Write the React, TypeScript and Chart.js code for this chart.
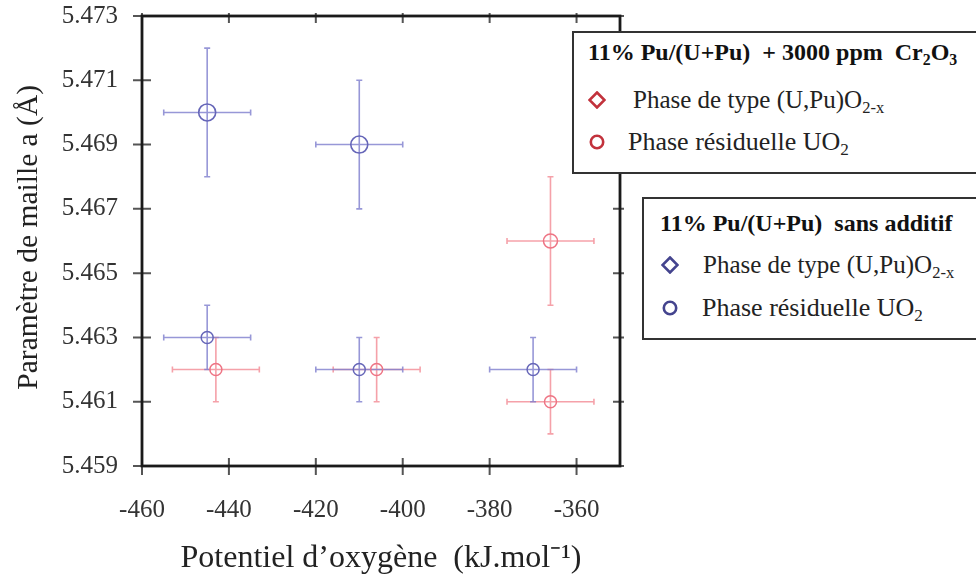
import React, { useEffect, useRef } from 'react';
import { Chart, registerables } from 'chart.js';

Chart.register(...registerables);

// Axis ticks
const xTickValues = [-460, -440, -420, -400, -380, -360];
const yTickValues = [5.459, 5.461, 5.463, 5.465, 5.467, 5.469, 5.471, 5.473];

// 11% Pu/(U+Pu) + 3000 ppm Cr2O3 — phase de type (U,Pu)O2-x
const crPhaseX = [-443, -406, -366];
const crPhaseY = [5.462, 5.462, 5.461];
const crPhaseErrX = [10, 10, 10];
const crPhaseErrY = [0.001, 0.001, 0.001];
// 11% Pu/(U+Pu) + 3000 ppm Cr2O3 — phase résiduelle UO2
const crUO2X = [-366];
const crUO2Y = [5.466];
const crUO2ErrX = [10];
const crUO2ErrY = [0.002];
// 11% Pu/(U+Pu) sans additif — phase de type (U,Pu)O2-x
const saPhaseX = [-445, -410, -370];
const saPhaseY = [5.463, 5.462, 5.462];
const saPhaseErrX = [10, 10, 10];
const saPhaseErrY = [0.001, 0.001, 0.001];
// 11% Pu/(U+Pu) sans additif — phase résiduelle UO2
const saUO2X = [-445, -410];
const saUO2Y = [5.47, 5.469];
const saUO2ErrX = [10, 10];
const saUO2ErrY = [0.002, 0.002];

const BLUE_BAR = 'rgba(125,125,205,0.8)';
const BLUE_MARK = '#6666b8';
const RED_BAR = 'rgba(242,130,140,0.75)';
const RED_MARK = '#ee7484';
const FONT = "'Liberation Serif', 'Times New Roman', serif";

const pts = (xs: number[], ys: number[]) => xs.map((x, i) => ({ x, y: ys[i] }));

const errorBarsPlugin = {
  id: 'errorBars',
  beforeDatasetsDraw(chart: any) {
    const { ctx } = chart;
    const xs = chart.scales.x;
    const ys = chart.scales.y;
    chart.data.datasets.forEach((ds: any) => {
      ctx.save();
      ctx.strokeStyle = ds.barColor;
      ctx.lineWidth = 1.6;
      const cap = 3;
      ds.data.forEach((p: any, i: number) => {
        const ex = ds.errX[i];
        const ey = ds.errY[i];
        const x0 = xs.getPixelForValue(p.x - ex);
        const x1 = xs.getPixelForValue(p.x + ex);
        const y0 = ys.getPixelForValue(p.y - ey);
        const y1 = ys.getPixelForValue(p.y + ey);
        const cx = xs.getPixelForValue(p.x);
        const cy = ys.getPixelForValue(p.y);
        ctx.beginPath();
        ctx.moveTo(x0, cy); ctx.lineTo(x1, cy);
        ctx.moveTo(cx, y0); ctx.lineTo(cx, y1);
        ctx.moveTo(x0, cy - cap); ctx.lineTo(x0, cy + cap);
        ctx.moveTo(x1, cy - cap); ctx.lineTo(x1, cy + cap);
        ctx.moveTo(cx - cap, y0); ctx.lineTo(cx + cap, y0);
        ctx.moveTo(cx - cap, y1); ctx.lineTo(cx + cap, y1);
        ctx.stroke();
      });
      ctx.restore();
    });
  },
};

const framePlugin = {
  id: 'frame',
  afterDatasetsDraw(chart: any) {
    const { ctx, chartArea } = chart;
    const { left, right, top, bottom } = chartArea;
    const xs = chart.scales.x;
    const ys = chart.scales.y;
    ctx.save();
    ctx.strokeStyle = '#555';
    ctx.lineWidth = 2;
    ctx.beginPath();
    xTickValues.forEach((v) => {
      const px = xs.getPixelForValue(v);
      ctx.moveTo(px, bottom - 8); ctx.lineTo(px, bottom + 9);
      ctx.moveTo(px, top - 3); ctx.lineTo(px, top + 7);
    });
    yTickValues.forEach((v) => {
      const py = ys.getPixelForValue(v);
      ctx.moveTo(left - 9, py); ctx.lineTo(left + 9, py);
      ctx.moveTo(right - 7, py); ctx.lineTo(right + 4, py);
    });
    ctx.stroke();
    ctx.strokeStyle = '#1a1a1a';
    ctx.lineWidth = 2.8;
    ctx.strokeRect(left, top, right - left, bottom - top);
    ctx.restore();
  },
};

function Diamond({ color }: { color: string }) {
  return (
    <svg width="18" height="18" style={{ display: 'block' }}>
      <polygon points="9,1.5 16.5,9 9,16.5 1.5,9" fill="none" stroke={color} strokeWidth="2.6" />
    </svg>
  );
}

function Circle({ color }: { color: string }) {
  return (
    <svg width="18" height="18" style={{ display: 'block' }}>
      <circle cx="9" cy="9" r="6.2" fill="none" stroke={color} strokeWidth="2.6" />
    </svg>
  );
}

const abs = (left: number, top: number, extra: any = {}) => ({
  position: 'absolute' as const,
  left,
  top,
  whiteSpace: 'nowrap' as const,
  lineHeight: '26px',
  fontFamily: FONT,
  color: '#222',
  ...extra,
});

const sub = { fontSize: '0.66em', verticalAlign: '-0.3em', lineHeight: 0 };

export default function App() {
  const canvasRef = useRef<HTMLCanvasElement | null>(null);

  useEffect(() => {
    if (!canvasRef.current) return;
    const chart = new Chart(canvasRef.current, {
      type: 'scatter',
      data: {
        datasets: [
          {
            label: 'Cr2O3 – Phase de type (U,Pu)O2-x',
            data: pts(crPhaseX, crPhaseY),
            errX: crPhaseErrX,
            errY: crPhaseErrY,
            barColor: RED_BAR,
            pointStyle: 'circle',
            pointRadius: 6,
            borderColor: RED_MARK,
            backgroundColor: 'rgba(255,255,255,0)',
            borderWidth: 1.5,
          } as any,
          {
            label: 'Cr2O3 – Phase résiduelle UO2',
            data: pts(crUO2X, crUO2Y),
            errX: crUO2ErrX,
            errY: crUO2ErrY,
            barColor: RED_BAR,
            pointStyle: 'circle',
            pointRadius: 7,
            borderColor: RED_MARK,
            backgroundColor: 'rgba(255,255,255,0)',
            borderWidth: 1.5,
          } as any,
          {
            label: 'Sans additif – Phase de type (U,Pu)O2-x',
            data: pts(saPhaseX, saPhaseY),
            errX: saPhaseErrX,
            errY: saPhaseErrY,
            barColor: BLUE_BAR,
            pointStyle: 'circle',
            pointRadius: 6,
            borderColor: BLUE_MARK,
            backgroundColor: 'rgba(255,255,255,0)',
            borderWidth: 1.5,
          } as any,
          {
            label: 'Sans additif – Phase résiduelle UO2',
            data: pts(saUO2X, saUO2Y),
            errX: saUO2ErrX,
            errY: saUO2ErrY,
            barColor: BLUE_BAR,
            pointStyle: 'circle',
            pointRadius: 8.5,
            borderColor: BLUE_MARK,
            backgroundColor: 'rgba(255,255,255,0)',
            borderWidth: 1.6,
          } as any,
        ],
      },
      options: {
        animation: false,
        responsive: true,
        maintainAspectRatio: false,
        events: [],
        layout: { padding: { top: 16, right: 356, left: 0, bottom: 0 } },
        plugins: { legend: { display: false }, tooltip: { enabled: false } },
        scales: {
          x: {
            type: 'linear',
            min: -460,
            max: -350,
            afterBuildTicks: (scale: any) => {
              scale.ticks = xTickValues.map((v) => ({ value: v }));
            },
            afterFit: (scale: any) => {
              scale.height = 114;
              scale.paddingLeft = 0;
              scale.paddingRight = 0;
            },
            grid: { display: false, drawTicks: false },
            border: { display: false },
            ticks: {
              padding: 29,
              color: '#333',
              font: { family: FONT, size: 25 },
              callback: (v: any) => String(v),
            },
            title: {
              display: true,
              text: 'Potentiel d’oxygène  (kJ.mol⁻¹)',
              color: '#222',
              font: { family: FONT, size: 32 },
              padding: { top: 0, bottom: 2 },
            },
          },
          y: {
            type: 'linear',
            min: 5.459,
            max: 5.473,
            afterBuildTicks: (scale: any) => {
              scale.ticks = yTickValues.map((v) => ({ value: v }));
            },
            afterFit: (scale: any) => {
              scale.width = 142;
              scale.paddingTop = 0;
              scale.paddingBottom = 0;
            },
            grid: { display: false, drawTicks: false },
            border: { display: false },
            ticks: {
              padding: 24,
              color: '#333',
              font: { family: FONT, size: 25 },
              callback: (v: any) => Number(v).toFixed(3),
            },
            title: {
              display: true,
              text: '\u00a0Paramètre de maille a (Å)',
              color: '#222',
              font: { family: FONT, size: 29.5 },
              padding: { top: 12, bottom: 0 },
            },
          },
        },
      } as any,
      plugins: [errorBarsPlugin, framePlugin],
    });
    return () => chart.destroy();
  }, []);

  return (
    <div
      style={{
        position: 'fixed',
        left: 0,
        top: 0,
        width: 976,
        height: 580,
        overflow: 'hidden',
        background: '#fff',
      }}
    >
      <canvas ref={canvasRef} />
      {/* Legend box 1 */}
      <div
        style={{
          position: 'absolute',
          left: 572,
          top: 31,
          width: 440,
          height: 139,
          border: '2px solid #333',
          background: '#fff',
        }}
      />
      <div style={abs(588, 39, { fontWeight: 'bold', fontSize: 24, color: '#111' })}>
        11% Pu/(U+Pu)&nbsp; + 3000 ppm&nbsp; Cr<sub style={sub}>2</sub>O<sub style={sub}>3</sub>
      </div>
      <div style={abs(588, 91)}><Diamond color="#c2323c" /></div>
      <div style={abs(633, 87, { fontSize: 25 })}>
        Phase de type (U,Pu)O<sub style={sub}>2-x</sub>
      </div>
      <div style={abs(588, 133)}><Circle color="#c2323c" /></div>
      <div style={abs(628, 129, { fontSize: 26 })}>
        Phase résiduelle UO<sub style={sub}>2</sub>
      </div>
      {/* Legend box 2 */}
      <div
        style={{
          position: 'absolute',
          left: 642,
          top: 197,
          width: 400,
          height: 139,
          border: '2px solid #333',
          background: '#fff',
        }}
      />
      <div style={abs(660, 210, { fontWeight: 'bold', fontSize: 24, color: '#111' })}>
        11% Pu/(U+Pu)&nbsp; sans additif
      </div>
      <div style={abs(661, 256)}><Diamond color="#44448e" /></div>
      <div style={abs(703, 252, { fontSize: 25 })}>
        Phase de type (U,Pu)O<sub style={sub}>2-x</sub>
      </div>
      <div style={abs(661, 299)}><Circle color="#44448e" /></div>
      <div style={abs(702, 295, { fontSize: 26 })}>
        Phase résiduelle UO<sub style={sub}>2</sub>
      </div>
    </div>
  );
}
